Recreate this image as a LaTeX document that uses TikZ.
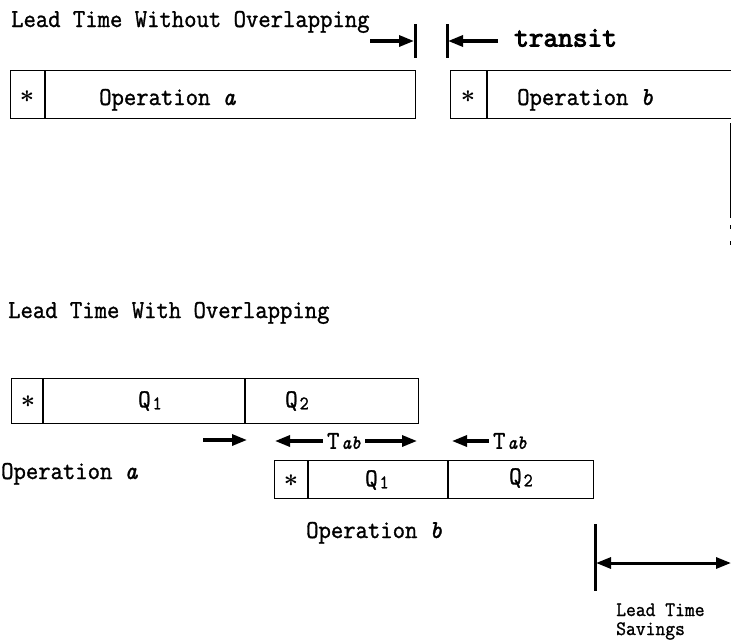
\documentclass[tikz,border=0pt]{standalone}
\usepackage{fontspec}
\usepackage{amsmath}
\setmainfont{Latin Modern Mono}[FakeStretch=0.93, FakeBold=1.2]
\newfontfamily\transitfont{Latin Modern Mono}[FakeBold=3.5]
\usetikzlibrary{arrows.meta}
\tikzset{
  opbox/.style={draw, line width=1.3pt, inner sep=0pt, rectangle},
  lbl/.style={inner sep=0pt, font=\fontsize{25.8}{28}\selectfont},
  small/.style={inner sep=0pt, font=\fontsize{20.5}{18}\selectfont},
  bar/.style={line width=3pt},
  thin/.style={line width=1.2pt},
  bigarrow/.style={line width=3.2pt, -{Triangle[length=15pt,width=11pt]}},
  dblarrow/.style={line width=3pt, {Triangle[length=15pt,width=11pt]}-{Triangle[length=15pt,width=11pt]}},
  star/.style={inner sep=0pt, font=\fontsize{27}{27}\selectfont}
}
\newcommand{\qsub}[1]{Q\hspace{2pt}\raisebox{-2pt}{\fontsize{19}{19}\selectfont #1}}
\newcommand{\tab}{T\hspace{2pt}{\itshape\fontsize{20}{20}\selectfont ab}}
\begin{document}
\begin{tikzpicture}[x=1pt,y=-1pt]
\useasboundingbox (0,0) rectangle (731,643);
\clip (0,0) rectangle (731,643);

% ---------- Top: without overlapping ----------
\node[lbl, anchor=base west] (title1) at (11,27) {Lead Time Without Overlapping};

\coordinate (barAtop) at (415,24);
\coordinate (barAbot) at (415,58);
\coordinate (barBtop) at (447,24);
\coordinate (barBbot) at (447,58);
\draw[bar] (barAtop) -- (barAbot);
\draw[bar] (barBtop) -- (barBbot);
\coordinate (arrAstart) at (370,41);
\coordinate (arrAend) at (414,41);
\coordinate (arrBstart) at (498,41);
\coordinate (arrBend) at (448,41);
\draw[bigarrow] (arrAstart) -- (arrAend);
\draw[bigarrow] (arrBstart) -- (arrBend);
\node[inner sep=0pt, anchor=west, font=\transitfont\fontsize{28.5}{28.5}\selectfont] (transit) at (514,38) {transit};

\node[opbox, anchor=north west, minimum width=405pt, minimum height=48pt] (opA) at (10,70) {};
\draw[thin] ([xshift=35pt]opA.north west) -- ([xshift=35pt]opA.south west);
\node[star] (starA) at (27,97) {$\boldsymbol{\ast}$};
\node[lbl, anchor=base west] (opAtext) at (99,105) {Operation \textit{a}};

\node[opbox, anchor=north west, minimum width=320pt, minimum height=48pt] (opB) at (450,70) {};
\draw[thin] ([xshift=37pt]opB.north west) -- ([xshift=37pt]opB.south west);
\node[star] (starB) at (468,97) {$\boldsymbol{\ast}$};
\node[lbl, anchor=base west] (opBtext) at (517,105) {Operation \textit{b}};

\coordinate (vtop) at (730,123);
\coordinate (vbot) at (730,218);
\draw[line width=1pt] (vtop) -- (vbot);
\draw[line width=1pt] (730,225) -- (730,229);
\draw[line width=1pt] (730,241) -- (730,245);

% ---------- Bottom: with overlapping ----------
\node[lbl, anchor=base west] (title2) at (8,318) {Lead Time With Overlapping};

\node[opbox, anchor=north west, minimum width=407pt, minimum height=45pt] (opA2) at (11,378) {};
\draw[thin] ([xshift=32pt]opA2.north west) -- ([xshift=32pt]opA2.south west);
\draw[thin] ([xshift=234pt]opA2.north west) -- ([xshift=234pt]opA2.south west);
\node[star] (starA2) at (28,402) {$\boldsymbol{\ast}$};
\node[lbl] (qA1) at (150,401) {\qsub{1}};
\node[lbl] (qA2) at (297,401) {\qsub{2}};

\coordinate (a1s) at (203,440);
\coordinate (a1e) at (247,440);
\draw[bigarrow] (a1s) -- (a1e);
\node[lbl] (tab1) at (344,441) {\tab};
\draw[bigarrow] ([xshift=-4pt]tab1.west) -- (275,441) coordinate (t1lend);
\draw[bigarrow] ([xshift=4pt]tab1.east) -- (417,441) coordinate (t1rend);
\node[lbl] (tab2) at (510,441) {\tab};
\draw[bigarrow] ([xshift=-4pt]tab2.west) -- (452,441) coordinate (t2lend);

\node[lbl, anchor=base west] (opAlbl) at (1,479) {Operation \textit{a}};

\node[opbox, anchor=north west, minimum width=319pt, minimum height=38pt] (opB2) at (274,460) {};
\draw[thin] ([xshift=34pt]opB2.north west) -- ([xshift=34pt]opB2.south west);
\draw[thin] ([xshift=174pt]opB2.north west) -- ([xshift=174pt]opB2.south west);
\node[star] (starB2) at (291,481) {$\boldsymbol{\ast}$};
\node[lbl] (qB1) at (377,480) {\qsub{1}};
\node[lbl] (qB2) at (521,478) {\qsub{2}};

\node[lbl, anchor=base west] (opBlbl) at (306,538) {Operation \textit{b}};

\coordinate (sbtop) at (595,524);
\coordinate (sbbot) at (595,591);
\draw[bar] (sbtop) -- (sbbot);
\coordinate (savL) at (596,563);
\coordinate (savR) at (731,563);
\draw[dblarrow] (savL) -- (savR);
\node[small, anchor=base west] (savings1) at (616,616) {Lead Time};
\node[small, anchor=base west] (savings2) at (616,635) {Savings};

\end{tikzpicture}
\end{document}
